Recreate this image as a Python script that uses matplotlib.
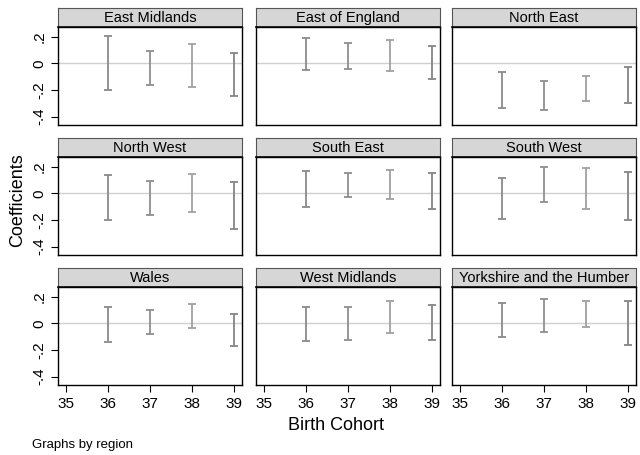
import matplotlib
matplotlib.use('Agg')
import matplotlib.pyplot as plt

plt.rcParams['font.family'] = ['Liberation Sans', 'DejaVu Sans']

regions = ['East Midlands', 'East of England', 'North East',
           'North West', 'South East', 'South West',
           'Wales', 'West Midlands', 'Yorkshire and the Humber']
cohorts = [36, 37, 38, 39]

# upper / lower bounds of the confidence intervals, per region
upper = [
    [0.207, 0.095, 0.148, 0.075],
    [0.190, 0.155, 0.175, 0.128],
    [-0.068, -0.135, -0.093, -0.025],
    [0.138, 0.093, 0.148, 0.088],
    [0.170, 0.155, 0.178, 0.155],
    [0.118, 0.200, 0.188, 0.163],
    [0.123, 0.100, 0.145, 0.068],
    [0.123, 0.123, 0.170, 0.138],
    [0.153, 0.183, 0.170, 0.170],
]
lower = [
    [-0.200, -0.160, -0.178, -0.248],
    [-0.050, -0.045, -0.058, -0.120],
    [-0.335, -0.353, -0.283, -0.295],
    [-0.203, -0.165, -0.140, -0.270],
    [-0.105, -0.028, -0.040, -0.115],
    [-0.190, -0.068, -0.118, -0.198],
    [-0.140, -0.083, -0.038, -0.173],
    [-0.133, -0.123, -0.075, -0.128],
    [-0.103, -0.065, -0.030, -0.163],
]
bar_grays = ['#8a8a8a', '#8f8f8f', '#a0a0a0', '#858585']

W, H = 640, 455
fig = plt.figure(figsize=(6.4, 4.55), dpi=100)

col_left = [58, 256, 452]
row_top = [27, 157, 287]
pw, ph = 184, 98
strip_h = 19

for i, name in enumerate(regions):
    r, c = divmod(i, 3)
    x0 = col_left[c]
    y0 = row_top[r]
    ax = fig.add_axes([x0 / W, 1 - (y0 + ph) / H, pw / W, ph / H])
    ax.axhline(0, color='#d0d0d0', lw=1, zorder=1)
    for j, x in enumerate(cohorts):
        lo, hi = lower[i][j], upper[i][j]
        ax.errorbar([x], [(lo + hi) / 2], yerr=[[(hi - lo) / 2], [(hi - lo) / 2]],
                    fmt='none', ecolor=bar_grays[j], elinewidth=1.3,
                    capsize=2.6, capthick=1.3, zorder=2)
    ax.set_xlim(34.81, 39.19)
    ax.set_ylim(-0.463, 0.272)
    ax.set_xticks([35, 36, 37, 38, 39])
    ax.set_yticks([0.2, 0, -0.2, -0.4])
    ax.tick_params(direction='out', length=5, width=0.8, colors='black',
                   labelsize=11)
    if c == 0:
        ax.set_yticklabels(['.2', '0', '-.2', '-.4'], rotation=90, va='center')
    else:
        ax.tick_params(axis='y', left=False, labelleft=False)
    if r == 2:
        ax.set_xticklabels(['35', '36', '37', '38', '39'])
    else:
        ax.tick_params(axis='x', bottom=False, labelbottom=False)
    for s in ax.spines.values():
        s.set_linewidth(1.0)
        s.set_color('black')

    sax = fig.add_axes([x0 / W, 1 - y0 / H, pw / W, strip_h / H])
    sax.set_facecolor('#d6d6d6')
    sax.set_xticks([])
    sax.set_yticks([])
    for s in sax.spines.values():
        s.set_linewidth(0.8)
        s.set_color('#555555')
    sax.spines['bottom'].set_color('black')
    sax.spines['bottom'].set_linewidth(1.2)
    sax.text(0.5, 0.48, name, ha='center', va='center', fontsize=10.5,
             transform=sax.transAxes)

fig.text(18 / W, 1 - 200 / H, 'Coefficients', rotation=90, ha='center',
         va='center', fontsize=13)
fig.text(336 / W, 1 - 426 / H, 'Birth Cohort', ha='center', va='center',
         fontsize=13)
fig.text(32 / W, 1 - 445 / H, 'Graphs by region', ha='left', va='center',
         fontsize=9.5)

fig.savefig('out.png', dpi=100, facecolor='white')
